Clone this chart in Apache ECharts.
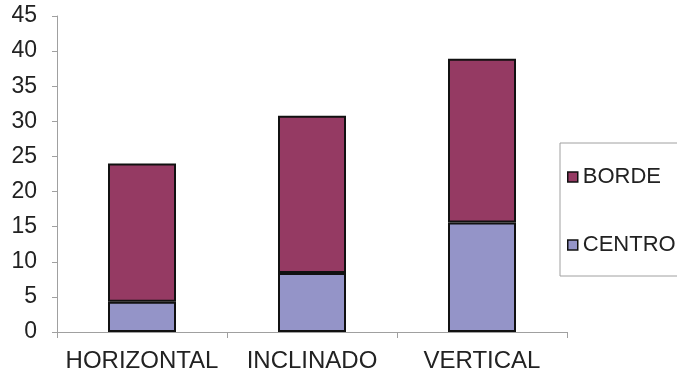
<!DOCTYPE html>
<html>
<head>
<meta charset="utf-8">
<script src="https://cdn.jsdelivr.net/npm/echarts@6/dist/echarts.min.js"></script>
<style>html,body{margin:0;padding:0;background:#fff}#c{width:677px;height:377px}</style>
</head>
<body>
<div id="c"></div>
<script>
var categories = ['HORIZONTAL', 'INCLINADO', 'VERTICAL'];
var centro = [4.3, 8.4, 15.6];
var borde = [19.7, 22.4, 23.3];
var seriesNames = ['BORDE', 'CENTRO'];

var chart = echarts.init(document.getElementById('c'), null, {renderer: 'canvas'});
var font = 'Liberation Sans, Arial, sans-serif';
chart.setOption({
  animation: false,
  backgroundColor: '#fff',
  grid: {left: 57, right: 110, top: 16, bottom: 45, containLabel: false},
  legend: {
    orient: 'vertical',
    left: 560, top: 143,
    padding: [23, 60, 20, 7],
    itemGap: 46,
    itemWidth: 10, itemHeight: 10,
    borderColor: '#a0a0a0', borderWidth: 1,
    backgroundColor: '#fff',
    textStyle: {fontFamily: font, fontSize: 22, color: '#222'},
    data: [
      {name: seriesNames[0], icon: 'rect', itemStyle: {borderWidth: 1.5, borderColor: '#111'}},
      {name: seriesNames[1], icon: 'rect', itemStyle: {borderWidth: 1.5, borderColor: '#111'}}
    ]
  },
  xAxis: {
    type: 'category',
    data: categories,
    boundaryGap: true,
    axisLine: {lineStyle: {color: '#a0a0a0', width: 1}},
    axisTick: {show: true, alignWithLabel: false, length: 6, lineStyle: {color: '#a0a0a0'}},
    axisLabel: {interval: 0, fontFamily: font, fontSize: 24, color: '#222', margin: 17}
  },
  yAxis: {
    type: 'value',
    min: 0, max: 45, interval: 5,
    splitLine: {show: false},
    axisLine: {show: true, lineStyle: {color: '#a0a0a0', width: 1}},
    axisTick: {show: true, length: 5, lineStyle: {color: '#a0a0a0'}},
    axisLabel: {fontFamily: font, fontSize: 23, color: '#222', margin: 20}
  },
  series: [
    {
      name: seriesNames[1], type: 'bar', stack: 'a', barWidth: '40%',
      data: centro,
      itemStyle: {color: '#9494c8', borderColor: '#111', borderWidth: 2}
    },
    {
      name: seriesNames[0], type: 'bar', stack: 'a', barWidth: '40%',
      data: borde,
      itemStyle: {color: '#953a63', borderColor: '#111', borderWidth: 2}
    }
  ]
});
</script>
</body>
</html>
